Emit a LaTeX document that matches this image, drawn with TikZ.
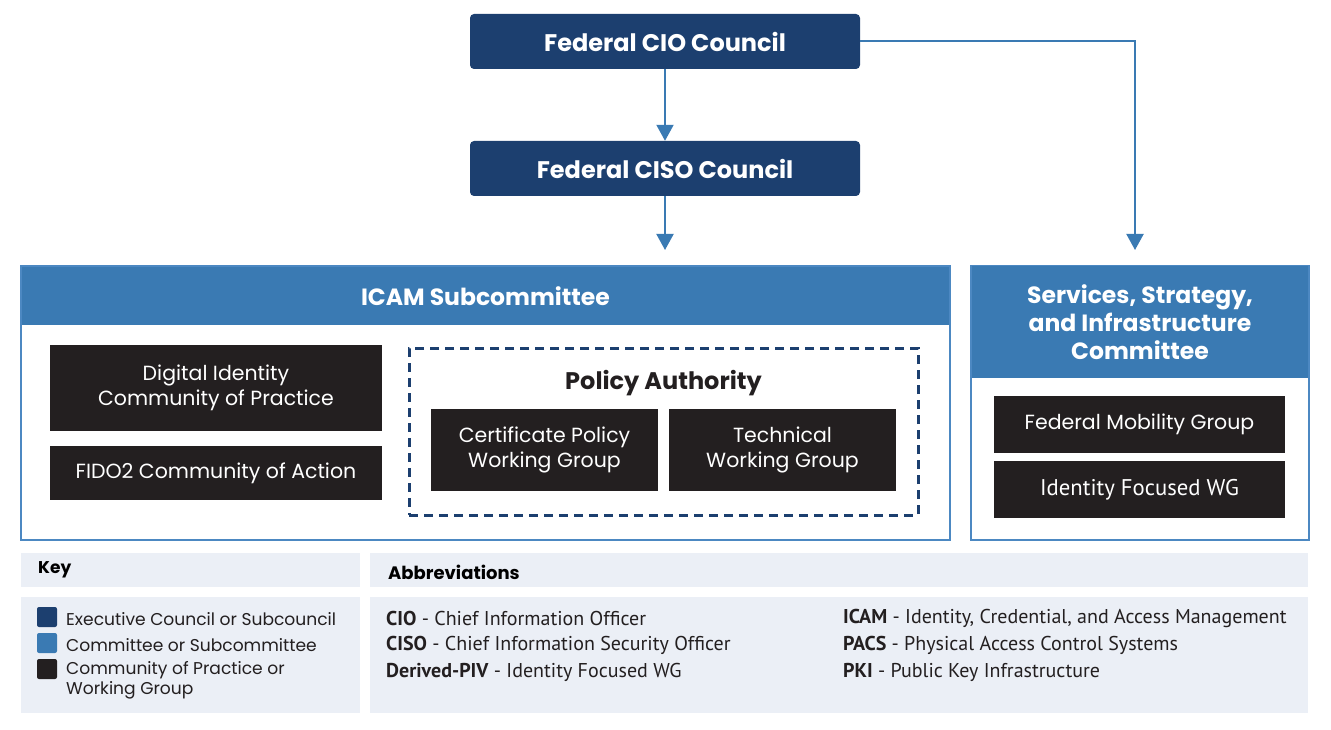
\documentclass[tikz,border=0pt]{standalone}
\usepackage{fontspec}
\setmainfont{Poppins}
\newfontfamily\narrowfont{PT Sans}
\usetikzlibrary{arrows.meta}
\definecolor{darkblue}{HTML}{1C3F6F}
\definecolor{midblue}{HTML}{3A7AB3}
\definecolor{edgeblue}{HTML}{4C88C2}
\definecolor{wgblack}{HTML}{231F20}
\definecolor{keybg}{HTML}{EBEFF6}
\tikzset{
  council/.style={fill=darkblue, rounded corners=4pt, text=white, font=\fontsize{24}{28}\selectfont\bfseries, minimum width=390pt, minimum height=55pt, inner sep=0pt},
  wgbox/.style={fill=wgblack, text=white, align=center, font=\fontsize{20.5}{25}\selectfont, inner sep=0pt},
  container/.style={draw=edgeblue, line width=1.6pt, fill=white, inner sep=0pt},
  header/.style={fill=midblue, text=white, align=center, font=\fontsize{23.5}{28}\selectfont\bfseries, inner sep=0pt},
  flow/.style={draw=midblue, line width=2pt, -{Triangle[width=17pt,length=16pt]}},
  keyband/.style={fill=keybg, inner sep=0pt},
  keysq/.style={fill=#1, rounded corners=2pt, minimum width=20pt, minimum height=20pt, inner sep=0pt},
  keytxt/.style={anchor=west, font=\fontsize{17.1}{20}\selectfont, inner sep=0pt, text=wgblack, align=left},
  abbr/.style={anchor=west, font=\narrowfont\fontsize{20}{22}\selectfont, inner sep=0pt, text=wgblack},
}
\begin{document}
\begin{tikzpicture}[x=1pt,y=-1pt]
\useasboundingbox (0,0) rectangle (1331,730);

% councils
\node[council] (cio) at (665,41.5) {Federal CIO Council};
\node[council] (ciso) at (665,168.5) {Federal CISO Council};

% ICAM container
\node[container, minimum width=929pt, minimum height=274pt] (icam) at (485.5,403) {};
\node[header, minimum width=927.4pt, minimum height=58pt] (icamh) at (485.5,295.8) {ICAM Subcommittee};

\node[wgbox, minimum width=332pt, minimum height=86pt] (dicop) at (216,388) {Digital Identity\\Community of Practice};
\node[wgbox, minimum width=332pt, minimum height=54pt] (fido) at (216,473) {FIDO2 Community of Action};

\node[draw=darkblue, dashed, dash pattern=on 9pt off 6pt, line width=3pt, minimum width=509pt, minimum height=167pt, inner sep=0pt] (pa) at (663.5,431.5) {};
\node[font=\fontsize{24}{28}\selectfont\bfseries, text=wgblack, inner sep=0pt] (patitle) at (663.5,383) {Policy Authority};
\node[wgbox, minimum width=227pt, minimum height=82pt] (cpwg) at (544.5,450) {Certificate Policy\\Working Group};
\node[wgbox, minimum width=227pt, minimum height=82pt] (twg) at (782.5,450) {Technical\\Working Group};

% SSI container
\node[container, minimum width=338pt, minimum height=274pt] (ssi) at (1140,403) {};
\node[header, minimum width=336.4pt, minimum height=111pt] (ssih) at (1140,322) {Services, Strategy,\\and Infrastructure\\Committee};
\node[wgbox, minimum width=291pt, minimum height=57pt] (fmg) at (1139.5,424.5) {Federal Mobility Group};
\node[wgbox, minimum width=291pt, minimum height=57pt, font=\narrowfont\fontsize{22.7}{26}\selectfont] (ifwg) at (1139.5,489.5) {Identity Focused WG};

% connectors
\coordinate (icamin) at (665,250);
\coordinate (ssiin) at (1135,250);
\draw[flow] (cio) -- (ciso);
\draw[flow] (ciso) -- (icamin);
\draw[flow] (cio.east) -| (ssiin);

% key
\node[keyband, minimum width=339pt, minimum height=34pt] (keyh) at (190.5,570) {};
\node[anchor=west, font=\fontsize{17}{20}\selectfont\bfseries, inner sep=0pt] (keyt) at (38,570) {Key};
\node[keyband, minimum width=339pt, minimum height=116pt] (keyb) at (190.5,655) {};
\node[keysq=darkblue] (sq1) at (47,617) {};
\node[keysq=midblue] (sq2) at (47,643) {};
\node[keysq=wgblack] (sq3) at (47,669) {};
\node[keytxt] (k1) at (66,619) {Executive Council or Subcouncil};
\node[keytxt] (k2) at (66,645) {Committee or Subcommittee};
\node[keytxt, anchor=north west] (k3) at (66,661) {Community of Practice or\\Working Group};

% abbreviations
\node[keyband, minimum width=938pt, minimum height=34pt] (abh) at (839,570) {};
\node[anchor=west, font=\fontsize{18}{20}\selectfont\bfseries, inner sep=0pt] (abt) at (388,572) {Abbreviations};
\node[keyband, minimum width=938pt, minimum height=116pt] (abb) at (839,655) {};
\node[abbr] (a1) at (386,618) {\textbf{CIO} - Chief Information Officer};
\node[abbr] (a2) at (386,645) {\textbf{CISO} - Chief Information Security Officer};
\node[abbr] (a3) at (386,672) {\textbf{Derived-PIV} - Identity Focused WG};
\node[abbr] (a4) at (843,618) {\textbf{ICAM} - Identity, Credential, and Access Management};
\node[abbr] (a5) at (843,645) {\textbf{PACS} - Physical Access Control Systems};
\node[abbr] (a6) at (843,672) {\textbf{PKI} - Public Key Infrastructure};
\end{tikzpicture}
\end{document}
